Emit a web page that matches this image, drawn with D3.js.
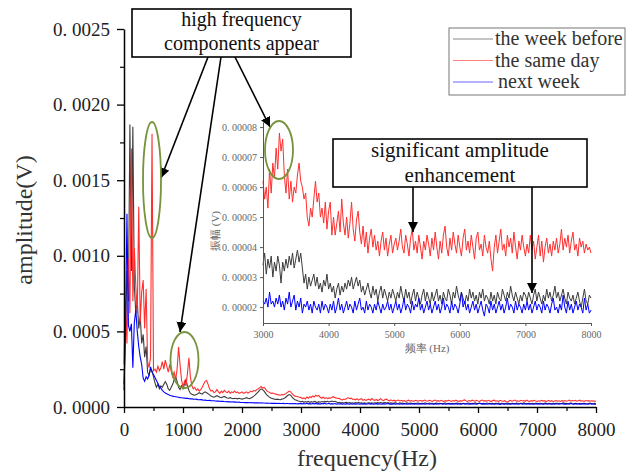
<!DOCTYPE html>
<html>
<head>
<meta charset="utf-8">
<script src="https://cdn.jsdelivr.net/npm/d3@7"></script>
<style>
  body { margin: 0; background: #fff; }
  svg text { font-family: "Liberation Serif", "Times New Roman", serif; }
</style>
</head>
<body>
<svg id="chart" width="629" height="476"></svg>
<script>
// spectra sampled every 25 Hz from 0 to 8000 Hz, amplitudes in microvolts
const freqStep = 25

const weekBefore = [
  150, 500, 900, 700, 1868, 900, 1854, 800, 620, 700,
  520, 600, 420, 480, 330, 400, 230, 210, 250, 240,
  200, 160, 130, 150, 120, 140, 130, 150, 168, 150,
  120, 110, 130, 150, 180, 200, 170, 130, 115, 140,
  120, 150, 180, 140, 110, 90, 85, 80, 78, 82,
  88, 95, 90, 85, 95, 100, 95, 88, 80, 72,
  68, 65, 70, 75, 70, 64, 62, 66, 70, 65,
  60, 58, 62, 58, 55, 58, 56, 54, 58, 55,
  52, 55, 58, 62, 58, 55, 60, 65, 72, 80,
  90, 100, 112, 120, 115, 105, 90, 78, 70, 62,
  58, 55, 52, 50, 52, 50, 48, 52, 55, 60,
  68, 76, 82, 78, 66, 55, 48, 44, 40, 38,
  34, 38, 31, 36, 33, 37, 30, 35, 32, 37, 34, 28, 35, 32, 36, 33, 37, 34, 38, 33, 36,
  39, 35, 38, 33, 28, 31, 26, 30, 27, 29, 31, 27, 30, 26, 28, 25, 29, 27, 31, 26,
  28, 25, 27, 23, 26, 28, 24, 27, 25, 28, 26, 29, 27, 30, 26, 28, 30, 27, 29, 25,
  27, 24, 26, 28, 25, 23, 27, 24, 26, 22, 25, 27, 23, 26, 24, 22, 25, 23, 26, 24,
  22, 25, 23, 27, 24, 22, 26, 23, 25, 21, 24, 26, 22, 25, 23, 21, 24, 26, 22, 25,
  23, 21, 25, 22, 24, 26, 22, 24, 21, 25, 23, 22, 26, 24, 21, 25, 23, 27, 24, 22,
  25, 23, 21, 24, 22, 26, 23, 25, 22, 24, 21, 25, 23, 26, 22, 24, 23, 21, 25, 22,
  24, 21, 25, 23, 22, 26, 24, 22, 25, 23, 27, 24, 22, 25, 23, 21, 24, 22, 25, 24,
  22, 25, 23, 21, 24, 26, 22, 25, 23, 21, 24, 22, 26, 23, 25, 22, 24, 27, 23, 25,
  22, 24, 26, 23, 21, 25, 23, 22, 24, 21, 23, 25, 22, 20, 23, 26, 22, 21, 24, 23
]

const sameDay = [
  280, 700, 420, 980, 620, 1709, 700, 1050, 800, 620,
  1325, 560, 760, 840, 520, 780, 300, 260, 330, 1808,
  240, 250, 230, 270, 240, 260, 300, 250, 310, 270,
  230, 280, 240, 200, 230, 180, 250, 397, 280, 180,
  132, 170, 140, 220, 325, 200, 140, 120, 130, 110,
  120, 105, 115, 130, 150, 170, 175, 150, 120, 105,
  110, 95, 100, 115, 100, 90, 105, 95, 110, 100,
  95, 105, 90, 100, 95, 105, 95, 100, 90, 95,
  100, 90, 95, 100, 92, 98, 105, 100, 110, 105,
  115, 120, 128, 135, 125, 130, 118, 105, 100, 95,
  90, 92, 88, 85, 82, 80, 78, 82, 80, 85,
  90, 98, 105, 100, 88, 78, 72, 70, 68, 65,
  62, 56, 60, 53, 66, 58, 68, 63, 73, 66, 78, 72, 76, 64, 58, 66, 56, 62, 55, 60, 58,
  64, 68, 62, 60, 56, 58, 50, 47, 53, 50, 56, 62, 55, 58, 50, 53, 48, 55, 46, 52,
  55, 44, 50, 44, 48, 52, 45, 56, 48, 44, 50, 43, 48, 55, 46, 42, 49, 52, 45, 41,
  47, 40, 45, 38, 43, 46, 40, 44, 39, 42, 37, 42, 45, 39, 43, 37, 41, 44, 38, 41,
  43, 39, 42, 46, 40, 38, 44, 41, 37, 43, 46, 39, 42, 38, 44, 40, 36, 42, 39, 44,
  41, 37, 43, 39, 45, 40, 36, 42, 38, 44, 47, 40, 37, 43, 39, 45, 41, 38, 44, 40,
  37, 43, 46, 39, 42, 38, 44, 40, 36, 43, 45, 39, 41, 37, 44, 40, 38, 42, 36, 32,
  40, 44, 38, 42, 46, 39, 41, 37, 44, 40, 43, 38, 45, 40, 36, 42, 39, 44, 40, 37,
  41, 38, 44, 39, 42, 36, 40, 44, 37, 42, 35, 40, 43, 38, 41, 37, 42, 39, 43, 38,
  41, 46, 39, 43, 40, 44, 38, 42, 45, 39, 41, 37, 43, 40, 42, 38, 41, 39, 40, 38
]

const nextWeek = [
  110, 500, 1278, 540, 500, 550, 260, 560, 640, 500,
  400, 330, 280, 190, 170, 200, 185, 210, 265, 230,
  215, 195, 175, 155, 135, 125, 110, 100, 92, 88,
  82, 78, 74, 72, 70, 68, 66, 64, 62, 61,
  60, 59, 57, 58, 55, 54, 55, 52, 51, 52,
  49, 48, 49, 47, 45, 46, 44, 43, 44, 42,
  41, 41, 40, 39, 40, 38, 37, 38, 36, 35,
  36, 34, 34, 33, 34, 32, 32, 31, 32, 30,
  30, 30, 29, 30, 29, 28, 29, 28, 27, 28,
  27, 27, 26, 27, 26, 26, 25, 26, 25, 25,
  24, 25, 24, 24, 23, 24, 23, 23, 24, 22,
  23, 23, 22, 23, 22, 22, 23, 22, 21, 22,
  22, 21, 23, 20, 25, 21, 22, 20, 23, 21, 24, 20, 22, 19, 23, 21, 25, 20, 22, 24, 19,
  22, 20, 23, 18, 21, 20, 22, 19, 21, 18, 22, 20, 19, 21, 18, 22, 19, 21, 20, 18,
  21, 19, 22, 18, 20, 23, 19, 21, 18, 20, 22, 19, 21, 20, 18, 22, 19, 21, 23, 19,
  20, 18, 22, 19, 21, 20, 18, 21, 19, 22, 20, 18, 21, 19, 20, 22, 19, 21, 18, 20,
  22, 19, 21, 18, 20, 23, 19, 21, 20, 18, 22, 19, 21, 20, 23, 19, 21, 18, 20, 22,
  19, 21, 18, 20, 22, 19, 21, 18, 20, 23, 19, 21, 20, 18, 22, 19, 21, 20, 18, 21,
  25, 20, 22, 19, 21, 18, 20, 22, 19, 21, 18, 20, 22, 19, 17, 21, 20, 18, 22, 19,
  21, 18, 20, 22, 19, 21, 18, 20, 23, 19, 21, 20, 18, 22, 19, 21, 20, 18, 21, 19,
  22, 19, 21, 18, 20, 22, 19, 21, 20, 18, 22, 19, 21, 20, 18, 21, 23, 19, 20, 18,
  21, 19, 24, 20, 18, 22, 19, 21, 18, 20, 22, 19, 21, 20, 18, 23, 19, 21, 18, 19
]

const seriesNames = ['the week before', 'the same day', 'next week']
const mainYTicks = [0, 0.0005, 0.001, 0.0015, 0.002, 0.0025]
const mainXTicks = [0, 1000, 2000, 3000, 4000, 5000, 6000, 7000, 8000]
const insetYTicks = [0.00002, 0.00003, 0.00004, 0.00005, 0.00006, 0.00007, 0.00008]
const insetXTicks = [3000, 4000, 5000, 6000, 7000, 8000]

const series = [weekBefore, sameDay, nextWeek]
const colors = ['#3c3c3c', '#ff2f2f', '#0000ff']
const serif = '"Liberation Serif", "Times New Roman", serif'
const cjk = '"Noto Sans CJK SC", sans-serif'

// "0.0025" -> "0. 0025" like the original figure
const wideDot = f => d => f(d).replace('.', '. ')
const plain = d3.format('d')

const svg = d3.select('#chart')

// ---- main chart ----
const x = d3.scaleLinear().domain([0, 8000]).range([124, 596])
const y = d3.scaleLinear().domain([0, 0.0025]).range([407, 29])

const mainLine = d3.line()
  .x((d, i) => x(i * freqStep))
  .y(d => y(d / 1e6))

svg.append('g').selectAll('path')
  .data(series)
  .enter().append('path')
  .attr('d', d => mainLine(d))
  .attr('fill', 'none')
  .attr('stroke', (d, i) => colors[i])
  .attr('stroke-width', 1.1)

function styleAxis(g, size, color) {
  g.attr('font-family', serif).attr('font-size', size)
  g.selectAll('text').attr('fill', color)
  g.selectAll('line').attr('stroke', '#000').attr('stroke-width', 1.3)
  g.select('.domain').attr('stroke', '#000').attr('stroke-width', 1.5)
}

const yAxis = svg.append('g')
  .attr('transform', 'translate(124,0)')
  .call(d3.axisLeft(y).tickValues(mainYTicks).tickSize(7).tickSizeOuter(0).tickPadding(7)
    .tickFormat(wideDot(d3.format('.4f'))))
styleAxis(yAxis, 19, '#222')

svg.append('g')
  .attr('transform', 'translate(124,0)')
  .call(d3.axisLeft(y).tickValues(mainYTicks.slice(0, -1).map(d => d + 0.00025)).tickSize(4).tickFormat(''))
  .call(g => g.select('.domain').remove())
  .selectAll('line').attr('stroke', '#000').attr('stroke-width', 1.2)

const xAxis = svg.append('g')
  .attr('transform', 'translate(0,407)')
  .call(d3.axisBottom(x).tickValues(mainXTicks).tickSize(6).tickSizeOuter(0).tickPadding(10)
    .tickFormat(plain))
styleAxis(xAxis, 19, '#222')

svg.append('g')
  .attr('transform', 'translate(0,407)')
  .call(d3.axisBottom(x).tickValues(mainXTicks.slice(0, -1).map(d => d + 500)).tickSize(4).tickFormat(''))
  .call(g => g.select('.domain').remove())
  .selectAll('line').attr('stroke', '#000').attr('stroke-width', 1.2)

svg.append('text')
  .attr('x', 367).attr('y', 466)
  .attr('text-anchor', 'middle')
  .attr('font-size', 24).attr('fill', '#333')
  .text('frequency(Hz)')

svg.append('text')
  .attr('transform', 'translate(32,220) rotate(-90)')
  .attr('text-anchor', 'middle')
  .attr('font-size', 24).attr('fill', '#333')
  .text('amplitude(V)')

// ---- inset ----
const xi = d3.scaleLinear().domain([3000, 8000]).range([263, 591])
const yi = d3.scaleLinear().domain([0.0000147, 0.0000817]).range([323, 122])
const startIdx = 3000 / freqStep

const insetLine = d3.line()
  .x((d, i) => xi((i + startIdx) * freqStep))
  .y(d => yi(d / 1e6))

svg.append('g').selectAll('path')
  .data(series.map(s => s.slice(startIdx)))
  .enter().append('path')
  .attr('d', d => insetLine(d))
  .attr('fill', 'none')
  .attr('stroke', (d, i) => colors[i])
  .attr('stroke-width', 1)

function styleInset(g) {
  g.attr('font-family', serif).attr('font-size', 10)
  g.selectAll('text').attr('fill', '#666')
  g.selectAll('line').attr('stroke', '#555')
  g.select('.domain').attr('stroke', '#555')
}

const yiAxis = svg.append('g')
  .attr('transform', 'translate(263,0)')
  .call(d3.axisLeft(yi).tickValues(insetYTicks).tickSize(3).tickSizeOuter(0).tickPadding(3)
    .tickFormat(wideDot(d3.format('.5f'))))
styleInset(yiAxis)

const xiAxis = svg.append('g')
  .attr('transform', 'translate(0,323)')
  .call(d3.axisBottom(xi).tickValues(insetXTicks).tickSize(3).tickSizeOuter(0).tickPadding(5)
    .tickFormat(plain))
styleInset(xiAxis)

svg.append('text')
  .attr('x', 427).attr('y', 352)
  .attr('text-anchor', 'middle')
  .attr('font-family', cjk).attr('font-size', 11).attr('fill', '#666')
  .text('频率 (Hz)')

svg.append('text')
  .attr('transform', 'translate(219,231) rotate(-90)')
  .attr('text-anchor', 'middle')
  .attr('font-family', cjk).attr('font-size', 11).attr('fill', '#666')
  .text('振幅 (V)')

// ---- legend ----
const legend = svg.append('g')
legend.append('rect')
  .attr('x', 449).attr('y', 28).attr('width', 176).attr('height', 67)
  .attr('fill', '#fff').attr('stroke', '#777').attr('stroke-width', 1)

const item = legend.selectAll('.item')
  .data(seriesNames)
  .enter().append('g')
  .attr('class', 'item')
  .attr('transform', (d, i) => `translate(0,${39 + i * 21.5})`)

item.append('line')
  .attr('x1', 453).attr('x2', 493)
  .attr('stroke', (d, i) => colors[i])
  .attr('stroke-opacity', 0.6)
  .attr('stroke-width', 1.2)

item.append('text')
  .attr('x', (d, i) => i === 2 ? 498 : 495)
  .attr('y', 6)
  .attr('font-size', 20).attr('fill', '#333')
  .text(d => d)

// ---- annotations ----
const defs = svg.append('defs')
defs.append('marker')
  .attr('id', 'arrow')
  .attr('viewBox', '0 0 10 10')
  .attr('refX', 10).attr('refY', 5)
  .attr('markerWidth', 10).attr('markerHeight', 10)
  .attr('markerUnits', 'userSpaceOnUse')
  .attr('orient', 'auto')
  .append('path')
  .attr('d', 'M0,0 L10,5 L0,10 Z')
  .attr('fill', '#000')

const arrows = [
  [208, 57, 161, 178],
  [221, 57, 180, 332],
  [235, 57, 270, 127],
  [413, 187, 413, 232],
  [532, 187, 532, 293]
]
svg.append('g').selectAll('line')
  .data(arrows)
  .enter().append('line')
  .attr('x1', d => d[0]).attr('y1', d => d[1])
  .attr('x2', d => d[2]).attr('y2', d => d[3])
  .attr('stroke', '#000').attr('stroke-width', 1.6)
  .attr('marker-end', 'url(#arrow)')

const ellipses = [
  [152, 180, 9, 58],
  [184.5, 360, 14, 28],
  [279, 150, 14, 29]
]
svg.append('g').selectAll('ellipse')
  .data(ellipses)
  .enter().append('ellipse')
  .attr('cx', d => d[0]).attr('cy', d => d[1])
  .attr('rx', d => d[2]).attr('ry', d => d[3])
  .attr('fill', 'none').attr('stroke', '#77933c').attr('stroke-width', 1.8)

const boxes = [
  { x: 132, y: 9, w: 219, h: 48, size: 20, lines: ['high frequency', 'components appear'], base: [26, 50] },
  { x: 333, y: 139, w: 254, h: 48, size: 21, lines: ['significant amplitude', 'enhancement'], base: [157, 182] }
]
boxes.forEach(b => {
  svg.append('rect')
    .attr('x', b.x).attr('y', b.y).attr('width', b.w).attr('height', b.h)
    .attr('fill', '#fff').attr('stroke', '#000').attr('stroke-width', 1.6)
  b.lines.forEach((t, i) => {
    svg.append('text')
      .attr('x', b.x + b.w / 2).attr('y', b.base[i])
      .attr('text-anchor', 'middle')
      .attr('font-size', b.size).attr('fill', '#111')
      .text(t)
  })
})
</script>
</body>
</html>
